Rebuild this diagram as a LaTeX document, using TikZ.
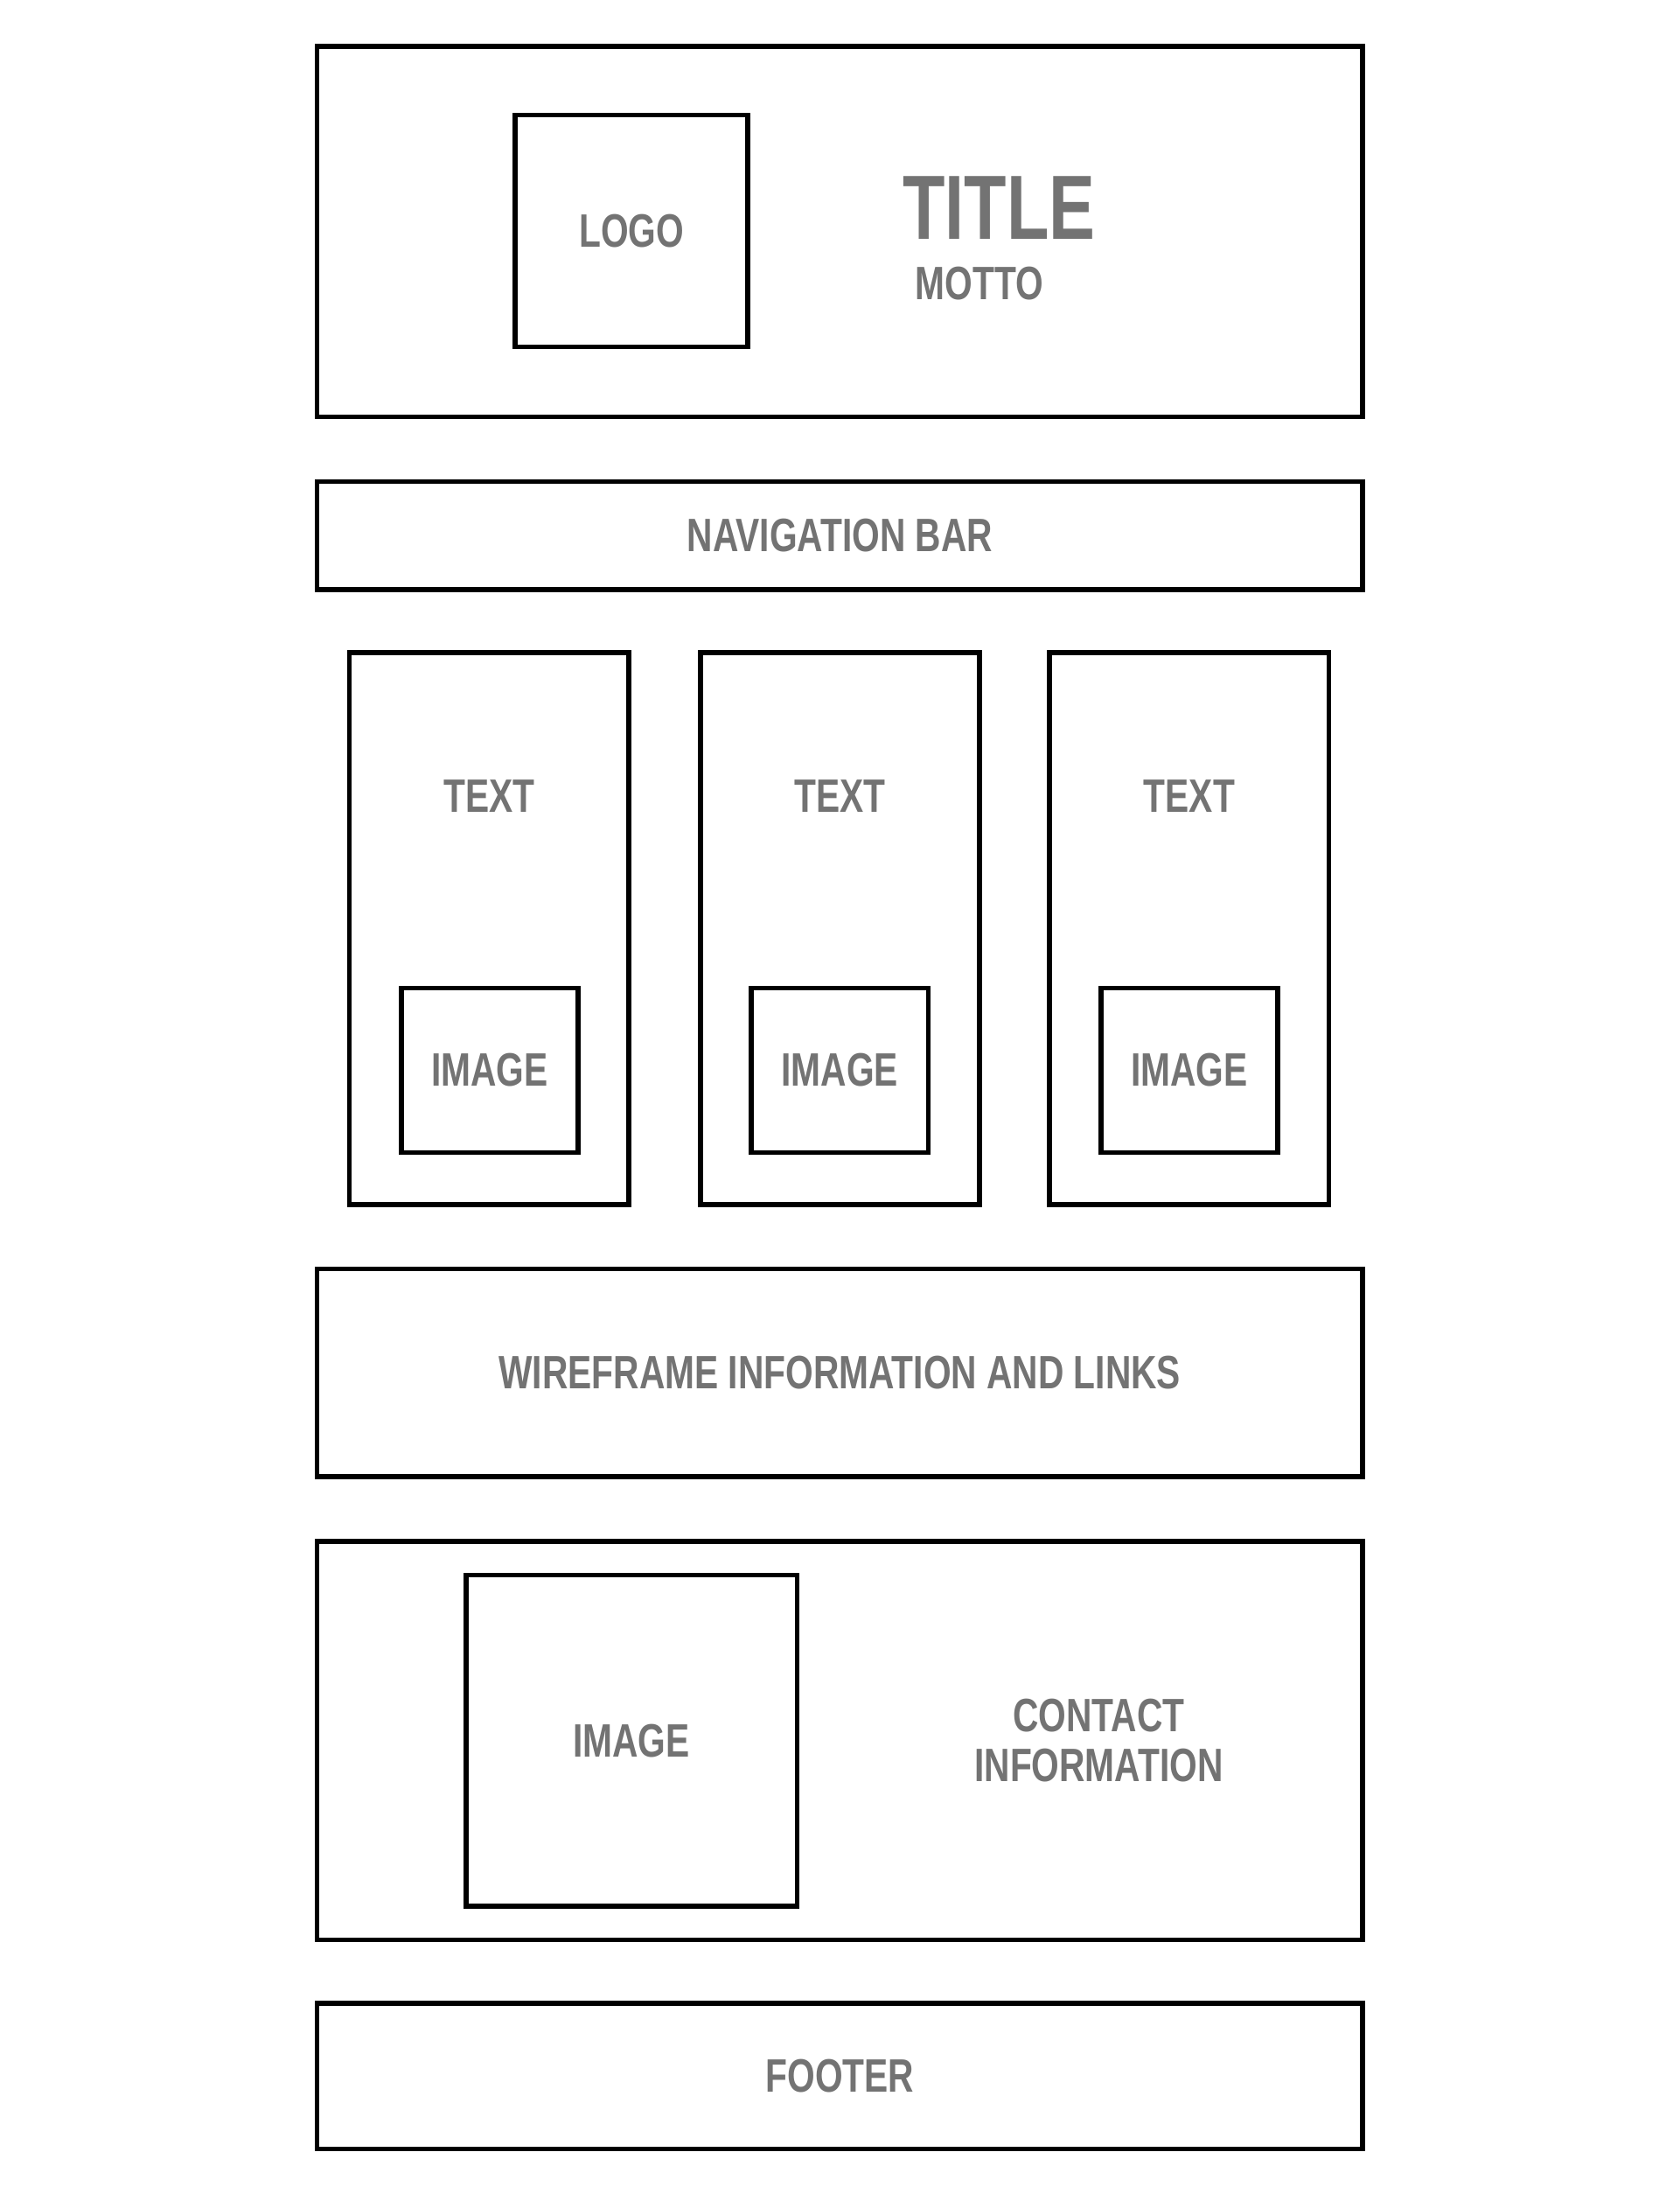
\documentclass[tikz,border=0pt]{standalone}
\usepackage{fontspec}
\setmainfont{Liberation Sans}[FakeStretch=0.76]
\usepackage{tikz}
\usetikzlibrary{positioning}
\definecolor{wfgray}{RGB}{115,115,115}

\begin{document}
\begin{tikzpicture}[x=0.2mm, y=-0.2mm,
    box/.style={draw, line width=2pt, inner sep=0pt, text=wfgray, font=\fontsize{19pt}{20.4pt}\selectfont\bfseries},
    lbl/.style={text=wfgray, inner sep=0pt, font=\fontsize{19pt}{20.4pt}\selectfont\bfseries}]

        \useasboundingbox (0,0) rectangle (1197,1568);

        % Header
        \node[box, minimum width=149mm, minimum height=52.8mm] (header) at (598.5, 165) {};
        \node[box, minimum width=33.2mm, minimum height=33mm] (logo) at (450, 164.5) {LOGO};
        \node[lbl, font=\fontsize{37pt}{40pt}\selectfont\bfseries] (title) at (712, 148) {TITLE};
        \node[lbl] (motto) at (698, 202) {MOTTO};

        % Navigation
        \node[box, minimum width=149mm, minimum height=15.4mm] (nav) at (598.5, 381.5) {NAVIGATION BAR};

        % Column 1
        \node[box, minimum width=39.8mm, minimum height=78.6mm] (col1) at (348.5, 661.5) {};
        \node[lbl] (text1) at (348.5, 567) {TEXT};
        \node[box, minimum width=25.2mm, minimum height=23.4mm] (img1) at (349, 762.5) {IMAGE};

        % Column 2
        \node[box, minimum width=39.8mm, minimum height=78.6mm] (col2) at (598.5, 661.5) {};
        \node[lbl] (text2) at (598.5, 567) {TEXT};
        \node[box, minimum width=25.2mm, minimum height=23.4mm] (img2) at (598.5, 762.5) {IMAGE};

        % Column 3
        \node[box, minimum width=39.8mm, minimum height=78.6mm] (col3) at (847.5, 661.5) {};
        \node[lbl] (text3) at (847.5, 567) {TEXT};
        \node[box, minimum width=25.2mm, minimum height=23.4mm] (img3) at (847.5, 762.5) {IMAGE};

        % Information
        \node[box, minimum width=149mm, minimum height=29.6mm] (info) at (598.5, 978) {WIREFRAME INFORMATION AND LINKS};

        % Contact
        \node[box, minimum width=149mm, minimum height=56.8mm] (contact) at (598.5, 1240) {};
        \node[box, minimum width=47.2mm, minimum height=47.2mm] (cimg) at (450, 1240) {IMAGE};
        \node[lbl, align=center] (ctext) at (783, 1240) {CONTACT\\INFORMATION};

        % Footer
        \node[box, minimum width=149mm, minimum height=20.8mm] (footer) at (598.5, 1479) {FOOTER};

    \end{tikzpicture}
\end{document}
